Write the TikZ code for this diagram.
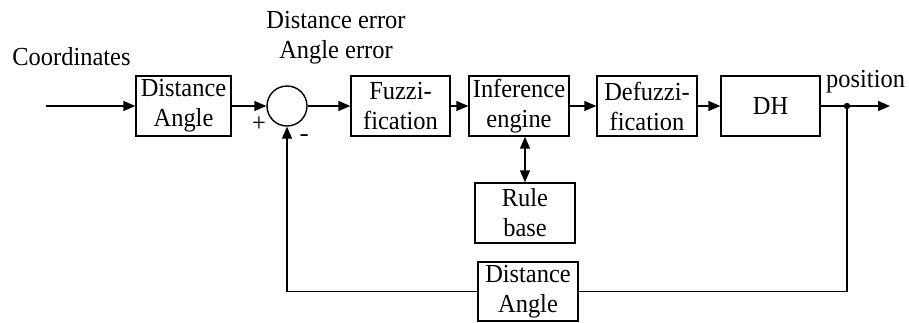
\documentclass[tikz,border=0pt]{standalone}
\usepackage{fontspec}
\setmainfont[FakeStretch=0.94]{Liberation Serif}
\usetikzlibrary{arrows.meta}
\begin{document}
\begin{tikzpicture}[x=1pt,y=-1pt,
  txt/.style={font=\fontsize{26}{30}\selectfont, inner sep=0pt},
  block/.style={txt, draw, line width=1.4pt, minimum width=100pt,
    minimum height=60pt, align=center},
  sumnode/.style={draw, circle, line width=1.4pt, minimum size=40pt, inner sep=0pt},
  wire/.style={line width=1.4pt},
  flow/.style={wire, -{Triangle[length=12pt,width=10pt]}},
  both/.style={wire, {Triangle[length=12pt,width=10pt]}-{Triangle[length=12pt,width=10pt]}}]
\useasboundingbox (0,0) rectangle (909,322);

% forward path
\coordinate (in) at (46,106);
\node[block, minimum width=95pt] (conv) at (183.5,106) {Distance\\Angle};
\node[sumnode] (sum) at (287,106) {};
\node[block, minimum width=99pt] (fuzz) at (400.5,106) {Fuzzi-\\fication};
\node[block] (inf) at (519,106) {Inference\\engine};
\node[block] (defuzz) at (647,106) {Defuzzi-\\fication};
\node[block, minimum width=99pt] (dh) at (770.5,106) {DH};
\coordinate (tap) at (847,106);
\coordinate (out) at (890,106);

% rule base and feedback
\node[block] (rule) at (525,213) {Rule\\base};
\node[block, minimum height=59pt] (fb) at (528,291.5) {Distance\\Angle};

% labels
\node[txt, anchor=base] (lcoord) at (71.5,65) {Coordinates};
\node[txt, anchor=base] (lerr1) at (336,28) {Distance error};
\node[txt, anchor=base] (lerr2) at (336,58) {Angle error};
\node[txt] (lplus) at (259,124) {+};
\node[txt, font=\fontsize{26}{30}\bfseries\sffamily] (lminus) at (305,138) {-};
\node[txt, anchor=base west] (lpos) at (826,87) {position};

% connectors
\draw[flow] (in) -- (conv.west);
\draw[flow] (conv.east) -- (sum.west);
\draw[flow] (sum.east) -- (fuzz.west);
\draw[flow] (fuzz.east) -- (inf.west);
\draw[flow] (inf.east) -- (defuzz.west);
\draw[flow] (defuzz.east) -- (dh.west);
\draw[flow] (dh.east) -- (out);
\draw[both] (inf.south -| rule.north) -- (rule.north);
\draw[wire] (tap) |- (fb.east);
\draw[flow] (fb.west) -| (sum.south);
\fill (tap) circle (3.2pt);
\end{tikzpicture}
\end{document}
